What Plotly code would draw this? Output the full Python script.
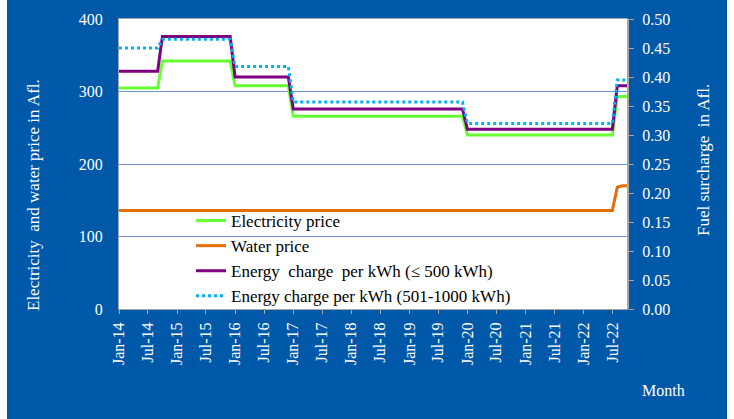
import numpy as np
import pandas as pd
import plotly.graph_objects as go

# ---- data ----
months = pd.date_range("2014-01-01", "2022-10-01", freq="MS")

# step periods (number of months each level lasts)
period_months = [9, 15, 12, 36, 31, 3]
electricity_levels = [305, 342, 308, 266, 240, 293]
energy_500_levels = [0.41, 0.47, 0.40, 0.345, 0.31, 0.385]
energy_1000_levels = [0.45, 0.465, 0.418, 0.357, 0.32, 0.395]

water_period_months = [103, 1, 2]
water_levels = [136, 168, 170]

electricity = np.repeat(electricity_levels, period_months)
energy_500 = np.repeat(energy_500_levels, period_months)
energy_1000 = np.repeat(energy_1000_levels, period_months)
water = np.repeat(water_levels, water_period_months)

tick_dates = pd.date_range("2014-01-01", "2022-07-01", freq="6MS")
tick_labels = ["Jan-14", "Jul-14", "Jan-15", "Jul-15", "Jan-16", "Jul-16",
               "Jan-17", "Jul-17", "Jan-18", "Jul-18", "Jan-19", "Jul-19",
               "Jan-20", "Jul-20", "Jan-21", "Jul-21", "Jan-22", "Jul-22"]

BLUE = "#0058A8"
FONT = "Liberation Serif, Times New Roman, serif"
W, H = 734, 419
L, R, T, B = 119, 627, 19, 309

def px_x(x):
    return (x - L) / (R - L)

def px_y(y):
    return (B - y) / (B - T)

fig = go.Figure()
fig.add_trace(go.Scatter(x=months, y=electricity, name="Electricity price",
                         legendgroup="g1",
                         mode="lines", line=dict(color="#66FF33", width=3)))
fig.add_trace(go.Scatter(x=months, y=water, name="Water price",
                         legendgroup="g2",
                         mode="lines", line=dict(color="#E46C0A", width=3)))
fig.add_trace(go.Scatter(x=months, y=energy_500,
                         name="Energy\u00a0 charge\u00a0 per kWh (\u2264 500 kWh)",
                         legendgroup="g3",
                         mode="lines", yaxis="y2",
                         line=dict(color="#7F007F", width=3)))
fig.add_trace(go.Scatter(x=months, y=energy_1000,
                         name="Energy charge per kWh (501-1000 kWh)",
                         legendgroup="g4",
                         mode="lines", yaxis="y2",
                         line=dict(color="#00B0F0", width=3, dash="dot")))

fig.update_layout(
    width=W, height=H,
    margin=dict(l=L, r=W - R, t=T, b=H - B, pad=0),
    paper_bgcolor="white",
    plot_bgcolor="white",
    font=dict(family=FONT, size=16, color="white"),
    showlegend=True,
    legend=dict(x=px_x(191), y=px_y(203), xanchor="left", yanchor="top",
                tracegroupgap=0,
                bgcolor="rgba(0,0,0,0)", font=dict(family=FONT, size=17, color="black")),
    xaxis=dict(
        type="date",
        range=[months[0], months[-1]],
        tickvals=list(tick_dates), ticktext=tick_labels,
        tickangle=-90, ticks="outside", ticklen=4, tickcolor="#a6a6a6",
        ticklabelstandoff=2,
        showline=True, mirror=True, linecolor="#a6a6a6", linewidth=1,
        showgrid=False, zeroline=False,
        tickfont=dict(family=FONT, size=16, color="white"),
    ),
    yaxis=dict(
        range=[0, 400], dtick=100, tick0=0,
        ticks="outside", ticklen=0, ticklabelstandoff=12,
        showline=True, linecolor="#a6a6a6", linewidth=1, mirror=True,
        showgrid=True, gridcolor="#6E93C9", gridwidth=1, zeroline=False,
        tickfont=dict(family=FONT, size=16, color="white"),
    ),
    yaxis2=dict(
        range=[0, 0.5], dtick=0.05, tick0=0, tickformat=".2f",
        overlaying="y", side="right",
        ticks="outside", ticklen=5, tickcolor="#a6a6a6", ticklabelstandoff=5,
        showline=True, linecolor="#a6a6a6", linewidth=2,
        showgrid=False, zeroline=False,
        tickfont=dict(family=FONT, size=16, color="white"),
    ),
    shapes=[
        dict(type="rect", xref="paper", yref="paper", layer="below",
             x0=px_x(7), x1=px_x(727), y0=px_y(H + 2), y1=px_y(-2),
             fillcolor=BLUE, line=dict(width=0)),
        dict(type="rect", xref="paper", yref="paper", layer="below",
             x0=0, x1=1, y0=0, y1=1, fillcolor="white", line=dict(width=0)),
    ],
    annotations=[
        dict(text="Electricity\u00a0 and water price in Afl.", xref="paper", yref="paper",
             x=px_x(33), y=px_y(195), textangle=-90, showarrow=False,
             xanchor="center", yanchor="middle",
             font=dict(family=FONT, size=17, color="white")),
        dict(text="Fuel surcharge\u00a0 in Afl.", xref="paper", yref="paper",
             x=px_x(703), y=px_y(160), textangle=-90, showarrow=False,
             xanchor="center", yanchor="middle",
             font=dict(family=FONT, size=17, color="white")),
        dict(text="Month", xref="paper", yref="paper",
             x=px_x(663), y=px_y(391), showarrow=False,
             xanchor="center", yanchor="middle",
             font=dict(family=FONT, size=16, color="white")),
    ],
)

fig.write_html("out.html", config={"displayModeBar": False},
               post_script="document.body.style.margin='0';")
